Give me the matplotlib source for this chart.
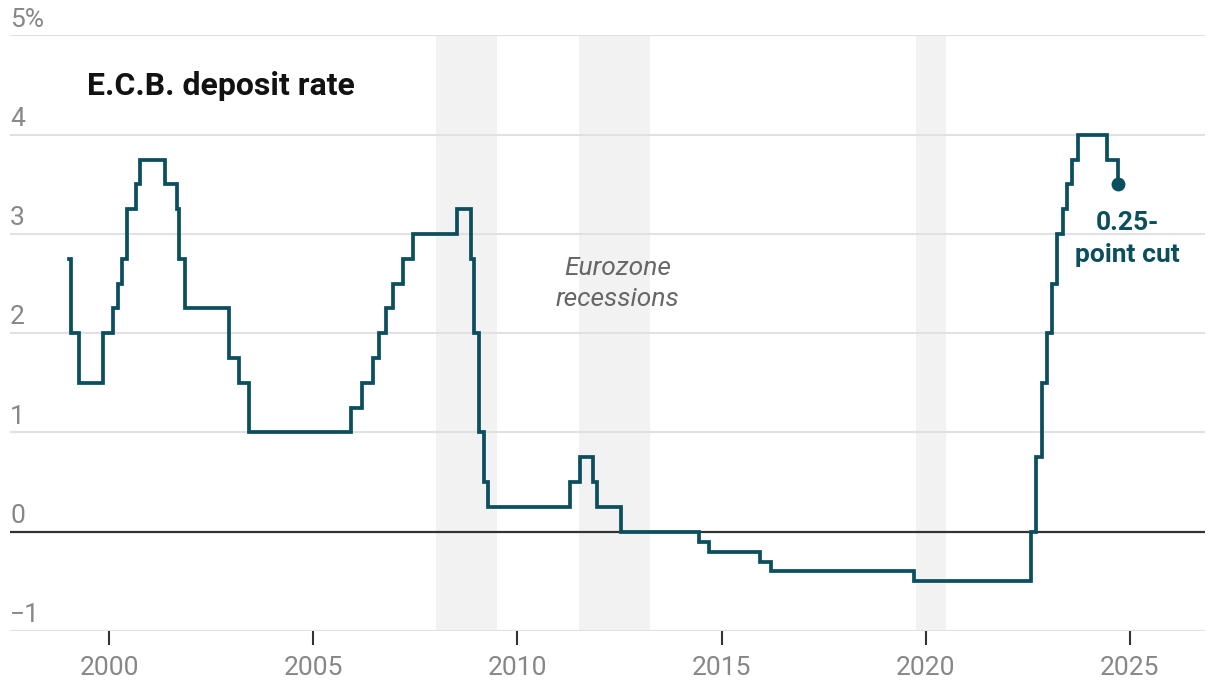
import numpy as np
import pandas as pd
import matplotlib
matplotlib.use("Agg")
import matplotlib.pyplot as plt
import matplotlib.transforms as mtransforms

# ECB deposit facility rate, change dates and new levels (%)
change_dates = [
    "1999-01-04", "1999-01-22", "1999-04-09", "1999-11-05", "2000-02-04",
    "2000-03-17", "2000-04-28", "2000-06-09", "2000-09-01", "2000-10-06",
    "2001-05-11", "2001-08-31", "2001-09-18", "2001-11-09", "2002-12-06",
    "2003-03-07", "2003-06-06", "2005-12-06", "2006-03-08", "2006-06-15",
    "2006-08-09", "2006-10-11", "2006-12-13", "2007-03-14", "2007-06-13",
    "2008-07-09", "2008-11-12", "2008-12-10",
    "2009-01-21", "2009-03-11", "2009-04-08", "2011-04-13", "2011-07-13",
    "2011-11-09", "2011-12-14", "2012-07-11", "2014-06-11", "2014-09-10",
    "2015-12-09", "2016-03-16", "2019-09-18", "2022-07-27", "2022-09-14",
    "2022-11-02", "2022-12-21", "2023-02-08", "2023-03-22", "2023-05-10",
    "2023-06-21", "2023-08-02", "2023-09-20", "2024-06-12", "2024-09-18",
]
deposit_rate = [
    2.75, 2.00, 1.50, 2.00, 2.25,
    2.50, 2.75, 3.25, 3.50, 3.75,
    3.50, 3.25, 2.75, 2.25, 1.75,
    1.50, 1.00, 1.25, 1.50, 1.75,
    2.00, 2.25, 2.50, 2.75, 3.00,
    3.25, 2.75, 2.00,
    1.00, 0.50, 0.25, 0.50, 0.75,
    0.50, 0.25, 0.00, -0.10, -0.20,
    -0.30, -0.40, -0.50, 0.00, 0.75,
    1.50, 2.00, 2.50, 3.00, 3.25,
    3.50, 3.75, 4.00, 3.75, 3.50,
]

# Eurozone recessions (start, end) in decimal years
recession_start = [2008.0, 2011.5, 2019.75]
recession_end = [2009.5, 2013.25, 2020.5]

y_ticks = [5, 4, 3, 2, 1, 0, -1]
y_tick_labels = ["5%", "4", "3", "2", "1", "0", "\u22121"]
x_ticks = [2000, 2005, 2010, 2015, 2020, 2025]


def to_decimal_year(date_strings):
    d = pd.to_datetime(date_strings)
    start = pd.to_datetime(d.year.astype(str) + "-01-01")
    days_in_year = np.where(d.is_leap_year, 366.0, 365.0)
    return d.year + (d - start).days / days_in_year


line_color = "#0b4f5e"
label_gray = "#878787"

plt.rcParams["font.family"] = ["Roboto", "DejaVu Sans"]

fig = plt.figure(figsize=(12.2, 6.86), dpi=100)
ax = fig.add_axes([0.0082, 0.0802, 0.9795, 0.8681])

x = to_decimal_year(change_dates)
y = np.array(deposit_rate)

for s, e in zip(recession_start, recession_end):
    ax.axvspan(s, e, color="#f2f2f2", zorder=0, lw=0)

for t in y_ticks:
    if t == 0:
        ax.axhline(t, color="#333333", lw=1.6, zorder=1)
    else:
        ax.axhline(t, color="#e1e1e1", lw=1.5, zorder=1)

ax.plot(x, y, drawstyle="steps-post", color=line_color, lw=2.7,
        solid_joinstyle="miter", zorder=3)
ax.plot(x[-1], y[-1], "o", color=line_color, ms=9, zorder=4)

ax.set_xlim(1997.57, 2026.84)
ax.set_ylim(-1, 5)

for sp in ax.spines.values():
    sp.set_visible(False)

ax.set_yticks([])
trans = mtransforms.blended_transform_factory(ax.transAxes, ax.transData)
for t, lab in zip(y_ticks, y_tick_labels):
    ax.text(0.0, t + 0.09, lab, transform=trans, ha="left", va="baseline",
            fontsize=19, color=label_gray)

ax.set_xticks(x_ticks)
ax.set_xticklabels([str(v) for v in x_ticks])
ax.tick_params(axis="x", length=10, width=1.5, color="#333333",
               labelsize=19, labelcolor=label_gray, pad=8)

ax.text(1999.45, 4.49, "E.C.B. deposit rate", fontsize=23, fontweight="bold",
        color="#121212", ha="left", va="center")

ax.text(2012.45, 2.50, "Eurozone\nrecessions", fontsize=19, style="italic",
        color="#666666", ha="center", va="center", linespacing=1.4)

ax.text(2024.95, 2.95, "0.25-\npoint cut", fontsize=19, fontweight="bold",
        color=line_color, ha="center", va="center", linespacing=1.4)

fig.savefig("out.png", dpi=100)
